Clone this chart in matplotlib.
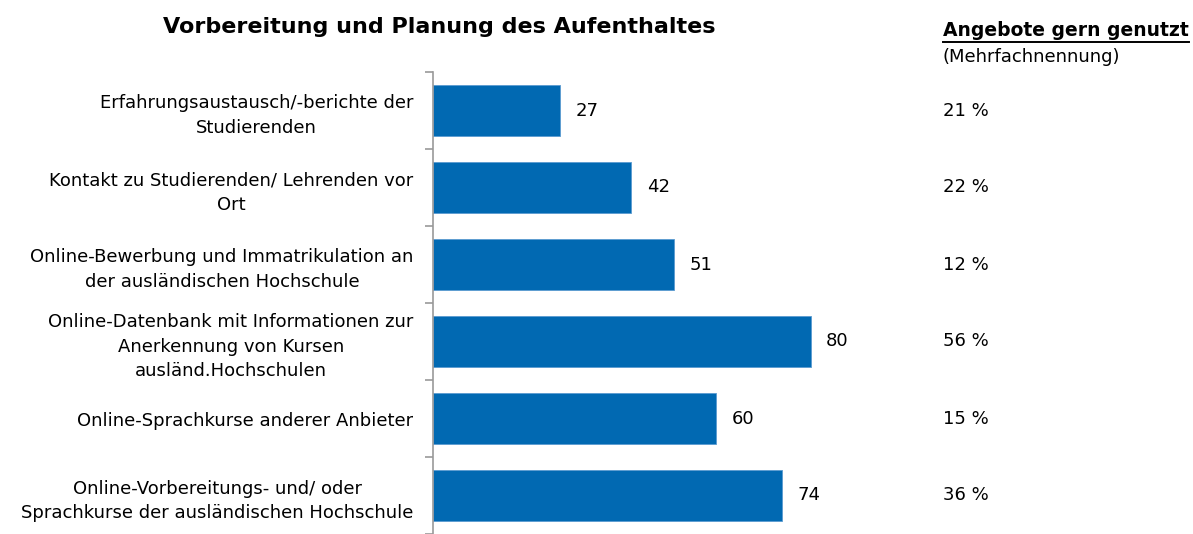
import matplotlib.pyplot as plt
import matplotlib.transforms as mtransforms
from matplotlib.lines import Line2D

title = "Vorbereitung und Planung des Aufenthaltes"
categories = [
    "Erfahrungsaustausch/-berichte der\nStudierenden",
    "Kontakt zu Studierenden/ Lehrenden vor\nOrt",
    "Online-Bewerbung und Immatrikulation an\nder ausländischen Hochschule",
    "Online-Datenbank mit Informationen zur\nAnerkennung von Kursen\nausländ.Hochschulen",
    "Online-Sprachkurse anderer Anbieter",
    "Online-Vorbereitungs- und/ oder\nSprachkurse der ausländischen Hochschule",
]
values = [27, 42, 51, 80, 60, 74]
used_pct = ["21 %", "22 %", "12 %", "56 %", "15 %", "36 %"]
side_header = "Angebote gern genutzt"
side_sub = "(Mehrfachnennung)"

W, H = 1193, 534
fig = plt.figure(figsize=(W / 100, H / 100), dpi=100)
ax = fig.add_axes([433 / W, 0, 472 / W, 1 - 72 / H])

fs = 13
bar_color = "#0169b2"
n = len(categories)
pos = list(range(n))
ax.barh(pos, values, height=0.675, color=bar_color, edgecolor="#5b9bd0", linewidth=0.6)
ax.set_ylim(n - 0.5, -0.5)
ax.set_xlim(0, 100)

for p, v in zip(pos, values):
    ax.text(v + 3.3, p, str(v), va="center", ha="left", fontsize=fs)

ax.set_yticks(pos)
ax.set_yticklabels(categories, fontsize=fs, multialignment="center", linespacing=1.45)
ax.tick_params(axis="y", which="major", length=0, pad=14)
ax.set_yticks([i - 0.5 for i in range(n + 1)], minor=True)
ax.tick_params(axis="y", which="minor", length=6, color="#999999", width=1.2)
ax.set_xticks([])
for s in ["top", "right", "bottom"]:
    ax.spines[s].set_visible(False)
ax.spines["left"].set_color("#999999")
ax.spines["left"].set_linewidth(1.2)

fig.text(439 / W, 1 - 27 / H, title, ha="center", va="center", fontsize=16, fontweight="bold")

tr = mtransforms.blended_transform_factory(fig.transFigure, ax.transData)
for p, t in zip(pos, used_pct):
    ax.text(943 / W, p, t, transform=tr, ha="left", va="center", fontsize=fs)

hdr = fig.text(943 / W, 1 - 31 / H, side_header, ha="left", va="center", fontsize=13.5, fontweight="bold")
fig.text(943 / W, 1 - 57 / H, side_sub, ha="left", va="center", fontsize=fs)

fig.canvas.draw()
bb = hdr.get_window_extent().transformed(fig.transFigure.inverted())
fig.add_artist(Line2D([bb.x0, bb.x1], [bb.y0 - 1 / H, bb.y0 - 1 / H], transform=fig.transFigure,
                      color="black", linewidth=1.4))

fig.savefig("out.png", dpi=100)
